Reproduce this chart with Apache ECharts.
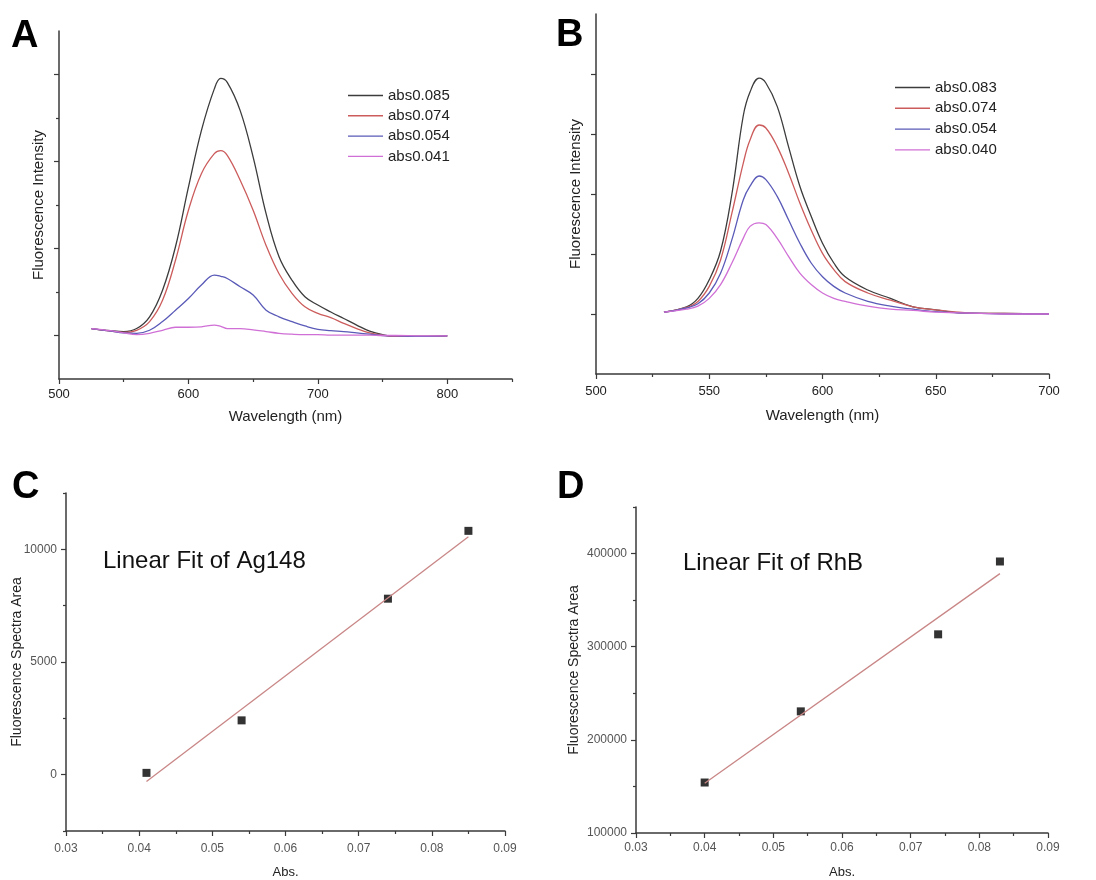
<!DOCTYPE html>
<html>
<head>
<meta charset="utf-8">
<script src="https://cdn.jsdelivr.net/npm/echarts@6/dist/echarts.min.js"></script>
<style>
  html, body { margin: 0; padding: 0; background: #fff; }
  #chart { width: 1096px; height: 880px; }
</style>
</head>
<body>
<div id="chart"></div>
<script>
// ---- Panel A: emission spectra of Ag148 (arbitrary intensity units) ----
const wavelengthA = [525, 540, 550, 560, 570, 580, 590, 600, 610, 620, 625, 630, 640, 650, 660, 670, 680, 690, 700, 710, 720, 730, 740, 750, 760, 780, 800];
const namesA = ['abs0.085', 'abs0.074', 'abs0.054', 'abs0.041'];
const intensityA085 = [1.16, 1.11, 1.09, 1.16, 1.43, 2.04, 3.04, 4.41, 5.71, 6.67, 6.91, 6.82, 6.17, 5.10, 3.80, 2.81, 2.27, 1.89, 1.70, 1.54, 1.39, 1.24, 1.10, 1.02, 0.98, 0.98, 0.99];
const intensityA074 = [1.16, 1.10, 1.07, 1.12, 1.32, 1.81, 2.73, 3.88, 4.72, 5.18, 5.25, 5.14, 4.57, 3.88, 3.07, 2.42, 1.97, 1.66, 1.51, 1.41, 1.28, 1.16, 1.06, 1.01, 0.98, 0.98, 0.99];
const intensityA054 = [1.16, 1.10, 1.06, 1.05, 1.12, 1.32, 1.58, 1.85, 2.16, 2.39, 2.36, 2.31, 2.12, 1.93, 1.58, 1.43, 1.32, 1.22, 1.14, 1.11, 1.09, 1.06, 1.03, 1.00, 0.99, 0.98, 0.99];
const intensityA041 = [1.16, 1.11, 1.06, 1.02, 1.05, 1.12, 1.19, 1.19, 1.20, 1.24, 1.21, 1.16, 1.16, 1.13, 1.09, 1.05, 1.03, 1.02, 1.02, 1.01, 1.01, 1.01, 1.01, 1.00, 1.00, 0.99, 0.99];
const ticksXA = [500, 600, 700, 800];

// ---- Panel B: emission spectra of RhB ----
const wavelengthB = [530, 540, 545, 550, 555, 560, 565, 568, 572, 575, 580, 585, 590, 595, 600, 605, 610, 620, 630, 640, 650, 660, 670, 680, 700];
const namesB = ['abs0.083', 'abs0.074', 'abs0.054', 'abs0.040'];
const intensityB083 = [1.03, 1.12, 1.26, 1.57, 2.05, 3.00, 4.30, 4.70, 4.93, 4.85, 4.46, 3.79, 3.13, 2.63, 2.18, 1.85, 1.62, 1.40, 1.26, 1.12, 1.07, 1.02, 1.01, 1.01, 1.00];
const intensityB074 = [1.03, 1.11, 1.21, 1.46, 1.90, 2.68, 3.51, 3.90, 4.15, 4.10, 3.79, 3.35, 2.85, 2.40, 2.01, 1.74, 1.54, 1.35, 1.23, 1.12, 1.07, 1.03, 1.01, 1.01, 1.00];
const intensityB054 = [1.03, 1.10, 1.17, 1.35, 1.68, 2.24, 2.90, 3.13, 3.30, 3.24, 2.96, 2.57, 2.18, 1.85, 1.62, 1.46, 1.35, 1.21, 1.13, 1.08, 1.04, 1.02, 1.01, 1.00, 1.00];
const intensityB040 = [1.03, 1.08, 1.13, 1.26, 1.49, 1.85, 2.26, 2.46, 2.52, 2.49, 2.26, 1.96, 1.68, 1.49, 1.35, 1.26, 1.21, 1.13, 1.08, 1.06, 1.03, 1.02, 1.01, 1.00, 1.00];
const ticksXB = [500, 550, 600, 650, 700];

// ---- Panel C: integrated area vs absorbance, Ag148 ----
const absC = [0.041, 0.054, 0.074, 0.085];
const areaC = [80, 2410, 7810, 10820];
const fitAbsC = [0.041, 0.085];
const fitAreaC = [-300, 10560];
const ticksYC = [0, 5000, 10000];

// ---- Panel D: integrated area vs absorbance, RhB ----
const absD = [0.040, 0.054, 0.074, 0.083];
const areaD = [154200, 230600, 313300, 391500];
const fitAbsD = [0.040, 0.083];
const fitAreaD = [153500, 378500];
const ticksYD = [100000, 200000, 300000, 400000];

const ticksAbs = [0.03, 0.04, 0.05, 0.06, 0.07, 0.08, 0.09];

const spectrumColors = ['#3c3c3c', '#cc5c5c', '#5a5ab8', '#d070d6'];
const FONT = '"Liberation Sans", Arial, sans-serif';
const AXIS_COLOR = '#3a3a3a';

const zip = (xs, ys) => xs.map((x, i) => [x, ys[i]]);

// Grid rectangles for the four panels
const grids = [
  { left: 59, top: 31, width: 453, height: 348 },
  { left: 596, top: 14, width: 453, height: 360 },
  { left: 66, top: 493, width: 439, height: 338 },
  { left: 636, top: 507, width: 412, height: 326 }
];

const xAxes = [];
const yAxes = [];

// Each panel gets a main axis plus an overlay axis that carries the short minor ticks
function addAxes(g, x, y) {
  const base = {
    type: 'value', gridIndex: g, scale: true,
    splitLine: { show: false }
  };
  xAxes.push(Object.assign({}, base, {
    position: 'bottom', min: x.min, max: x.max,
    axisLine: { onZero: false, lineStyle: { color: AXIS_COLOR, width: 1.5 } },
    axisTick: { customValues: x.major, length: 5, lineStyle: { color: AXIS_COLOR, width: 1.2 } },
    axisLabel: {
      customValues: x.major, margin: x.margin, fontSize: x.fontSize, color: x.labelColor,
      fontFamily: FONT, formatter: x.formatter
    },
    name: x.name, nameLocation: 'middle', nameGap: x.nameGap, nameMoveOverlap: false,
    nameTextStyle: { fontSize: x.nameSize, color: '#222', fontFamily: FONT }
  }));
  xAxes.push(Object.assign({}, base, {
    position: 'bottom', min: x.min, max: x.max,
    axisLine: { show: false, onZero: false },
    axisTick: { customValues: x.minor, length: 3, lineStyle: { color: AXIS_COLOR, width: 1.2 } },
    axisLabel: { show: false }
  }));
  yAxes.push(Object.assign({}, base, {
    position: 'left', min: y.min, max: y.max,
    axisLine: { onZero: false, lineStyle: { color: AXIS_COLOR, width: 1.5 } },
    axisTick: { customValues: y.major, length: 5, lineStyle: { color: AXIS_COLOR, width: 1.2 } },
    axisLabel: y.labels
      ? { customValues: y.major, margin: 9, fontSize: 12, color: '#555', fontFamily: FONT, formatter: v => String(v) }
      : { show: false },
    name: y.name, nameLocation: 'middle', nameGap: y.nameGap, nameRotate: 90, nameMoveOverlap: false,
    nameTextStyle: { fontSize: y.nameSize, color: '#222', fontFamily: FONT }
  }));
  yAxes.push(Object.assign({}, base, {
    position: 'left', min: y.min, max: y.max,
    axisLine: { show: false, onZero: false },
    axisTick: { show: y.minor.length > 0, customValues: y.minor, length: 3, lineStyle: { color: AXIS_COLOR, width: 1.2 } },
    axisLabel: { show: false }
  }));
}

addAxes(0,
  { min: 500, max: 850, major: ticksXA, minor: [550, 650, 750, 850], margin: 9, fontSize: 13, labelColor: '#222',
    formatter: v => String(v), name: 'Wavelength (nm)', nameGap: 30, nameSize: 15 },
  { min: 0, max: 8, major: [1, 3, 5, 7], minor: [2, 4, 6], labels: false,
    name: 'Fluorescence Intensity', nameGap: 13, nameSize: 15 });
addAxes(1,
  { min: 500, max: 700, major: ticksXB, minor: [525, 575, 625, 675], margin: 11, fontSize: 13, labelColor: '#222',
    formatter: v => String(v), name: 'Wavelength (nm)', nameGap: 34, nameSize: 15 },
  { min: 0, max: 6, major: [1, 2, 3, 4, 5], minor: [], labels: false,
    name: 'Fluorescence Intensity', nameGap: 13, nameSize: 15 });
addAxes(2,
  { min: 0.03, max: 0.09, major: ticksAbs, minor: [0.035, 0.045, 0.055, 0.065, 0.075, 0.085], margin: 12, fontSize: 12,
    labelColor: '#555', formatter: v => v.toFixed(2), name: 'Abs.', nameGap: 35, nameSize: 13 },
  { min: -2500, max: 12500, major: ticksYC, minor: [-2500, 2500, 7500, 12500], labels: true,
    name: 'Fluorescence Spectra Area', nameGap: 42, nameSize: 14 });
addAxes(3,
  { min: 0.03, max: 0.09, major: ticksAbs, minor: [0.035, 0.045, 0.055, 0.065, 0.075, 0.085], margin: 9, fontSize: 12,
    labelColor: '#555', formatter: v => v.toFixed(2), name: 'Abs.', nameGap: 33, nameSize: 13 },
  { min: 100000, max: 450000, major: ticksYD, minor: [150000, 250000, 350000, 450000], labels: true,
    name: 'Fluorescence Spectra Area', nameGap: 55, nameSize: 14 });

function spectrum(name, xs, ys, panel, color) {
  return {
    type: 'line', name, xAxisIndex: panel * 2, yAxisIndex: panel * 2,
    data: zip(xs, ys), smooth: 0.4, symbol: 'none',
    lineStyle: { color, width: 1.3 }, itemStyle: { color },
    emphasis: { disabled: true }
  };
}

const series = [
  spectrum(namesA[0], wavelengthA, intensityA085, 0, spectrumColors[0]),
  spectrum(namesA[1], wavelengthA, intensityA074, 0, spectrumColors[1]),
  spectrum(namesA[2], wavelengthA, intensityA054, 0, spectrumColors[2]),
  spectrum(namesA[3], wavelengthA, intensityA041, 0, spectrumColors[3]),
  spectrum(namesB[0], wavelengthB, intensityB083, 1, spectrumColors[0]),
  spectrum(namesB[1], wavelengthB, intensityB074, 1, spectrumColors[1]),
  spectrum(namesB[2], wavelengthB, intensityB054, 1, spectrumColors[2]),
  spectrum(namesB[3], wavelengthB, intensityB040, 1, spectrumColors[3]),
  {
    type: 'line', name: 'fitC', xAxisIndex: 4, yAxisIndex: 4, data: zip(fitAbsC, fitAreaC),
    symbol: 'none', lineStyle: { color: '#c98686', width: 1.3 }
  },
  {
    type: 'scatter', name: 'pointsC', xAxisIndex: 4, yAxisIndex: 4, data: zip(absC, areaC),
    symbol: 'rect', symbolSize: 8, itemStyle: { color: '#000' }
  },
  {
    type: 'line', name: 'fitD', xAxisIndex: 6, yAxisIndex: 6, data: zip(fitAbsD, fitAreaD),
    symbol: 'none', lineStyle: { color: '#c98686', width: 1.3 }
  },
  {
    type: 'scatter', name: 'pointsD', xAxisIndex: 6, yAxisIndex: 6, data: zip(absD, areaD),
    symbol: 'rect', symbolSize: 8, itemStyle: { color: '#000' }
  }
];

// Legends drawn as plain line segments next to each label
function legendFor(names, left, top, gap) {
  return {
    data: names, orient: 'vertical', left, top,
    icon: 'rect', itemWidth: 35, itemHeight: 1.4, itemGap: gap,
    selectedMode: false,
    textStyle: { fontSize: 15, color: '#222', fontFamily: FONT }
  };
}

function panelLetter(text, x, y) {
  return {
    type: 'text', left: x, top: y,
    style: { text, fontSize: 38, fontWeight: 'bold', fill: '#000', fontFamily: FONT }
  };
}

function fitCaption(text, x, y) {
  return {
    type: 'text', left: x, top: y,
    style: { text, fontSize: 24, fill: '#111', fontFamily: FONT }
  };
}

const chart = echarts.init(document.getElementById('chart'), null, { renderer: 'canvas' });
chart.setOption({
  backgroundColor: '#ffffff',
  animation: false,
  grid: grids,
  xAxis: xAxes,
  yAxis: yAxes,
  legend: [legendFor(namesA, 343, 83, 5.3), legendFor(namesB, 890, 75, 5.8)],
  series,
  graphic: [
    panelLetter('A', 11, 18),
    panelLetter('B', 556, 17),
    panelLetter('C', 12, 469),
    panelLetter('D', 557, 469),
    fitCaption('Linear Fit of Ag148', 103, 549),
    fitCaption('Linear Fit of RhB', 683, 551)
  ]
});
</script>
</body>
</html>
